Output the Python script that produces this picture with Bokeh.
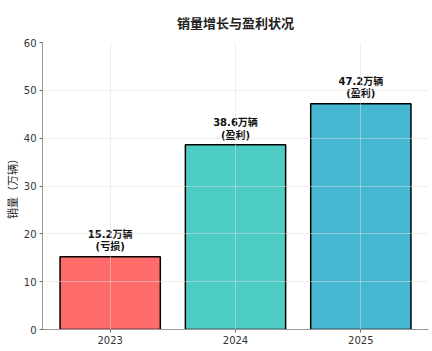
from bokeh.plotting import figure
from bokeh.models import ColumnDataSource, Range1d, FixedTicker, Title
from bokeh.core.properties import value
from bokeh.embed import file_html
from bokeh.resources import INLINE

years = ["2023", "2024", "2025"]
sales = [15.2, 38.6, 47.2]
status = ["亏损", "盈利", "盈利"]
colors = ["#FF6B6B", "#4ECDC4", "#45B7D1"]
y_ticks = [0, 10, 20, 30, 40, 50, 60]
title = "销量增长与盈利状况"

xs = list(range(len(years)))
labels = [f"{v}万辆\n({s})" for v, s in zip(sales, status)]
src = ColumnDataSource(dict(x=xs, top=sales, color=colors, label=labels,
                            ly=[v + 0.9 for v in sales]))

p = figure(width=432, height=351, output_backend="svg", toolbar_location=None,
           x_range=Range1d(-0.54, 2.54), y_range=Range1d(0, 60),
           min_border_left=10, min_border_right=4, min_border_top=42, min_border_bottom=22)
p.outline_line_color = None
p.background_fill_color = "white"
p.border_fill_color = "white"

p.vbar(x="x", top="top", width=0.8, bottom=0, source=src, fill_color="color",
       line_color="black", line_width=1.5)

p.text(x="x", y="ly", text="label", source=src, text_align="center", text_baseline="bottom",
       text_font=value("DejaVu Sans, Noto Sans CJK SC"), text_font_style="bold",
       text_font_size="10px", text_line_height=1.1, text_color="#111111")

p.title = None
p.add_layout(Title(text=" ", text_font_size="3px", standoff=3), "above")
p.add_layout(Title(text=title, align="center", text_font="Noto Sans CJK SC",
                   text_font_size="13px", text_font_style="bold", text_color="#222222",
                   offset=0, standoff=6), "above")

p.xaxis.ticker = FixedTicker(ticks=xs)
p.xaxis.major_label_overrides = {i: y for i, y in enumerate(years)}
p.yaxis.ticker = FixedTicker(ticks=y_ticks)
for ax in (p.xaxis[0], p.yaxis[0]):
    ax.major_label_text_font = "DejaVu Sans"
    ax.major_label_text_font_size = "10px"
    ax.major_label_text_color = "#333333"
    ax.major_label_standoff = 3
    ax.axis_line_color = "#999999"
    ax.major_tick_line_color = "#666666"
    ax.major_tick_in = 0
    ax.major_tick_out = 3
    ax.minor_tick_line_color = None
p.yaxis.axis_label = "销量（万辆）"
p.yaxis.axis_label_text_font = "Noto Sans CJK SC"
p.yaxis.axis_label_text_font_size = "11px"
p.yaxis.axis_label_text_font_style = "normal"
p.yaxis.axis_label_text_color = "#222222"
p.yaxis.axis_label_standoff = 1

for g in (p.xgrid[0], p.ygrid[0]):
    g.grid_line_color = "#dddddd"
    g.grid_line_alpha = 0.5
    g.level = "overlay"

open("out.html", "w").write(file_html(p, INLINE))
